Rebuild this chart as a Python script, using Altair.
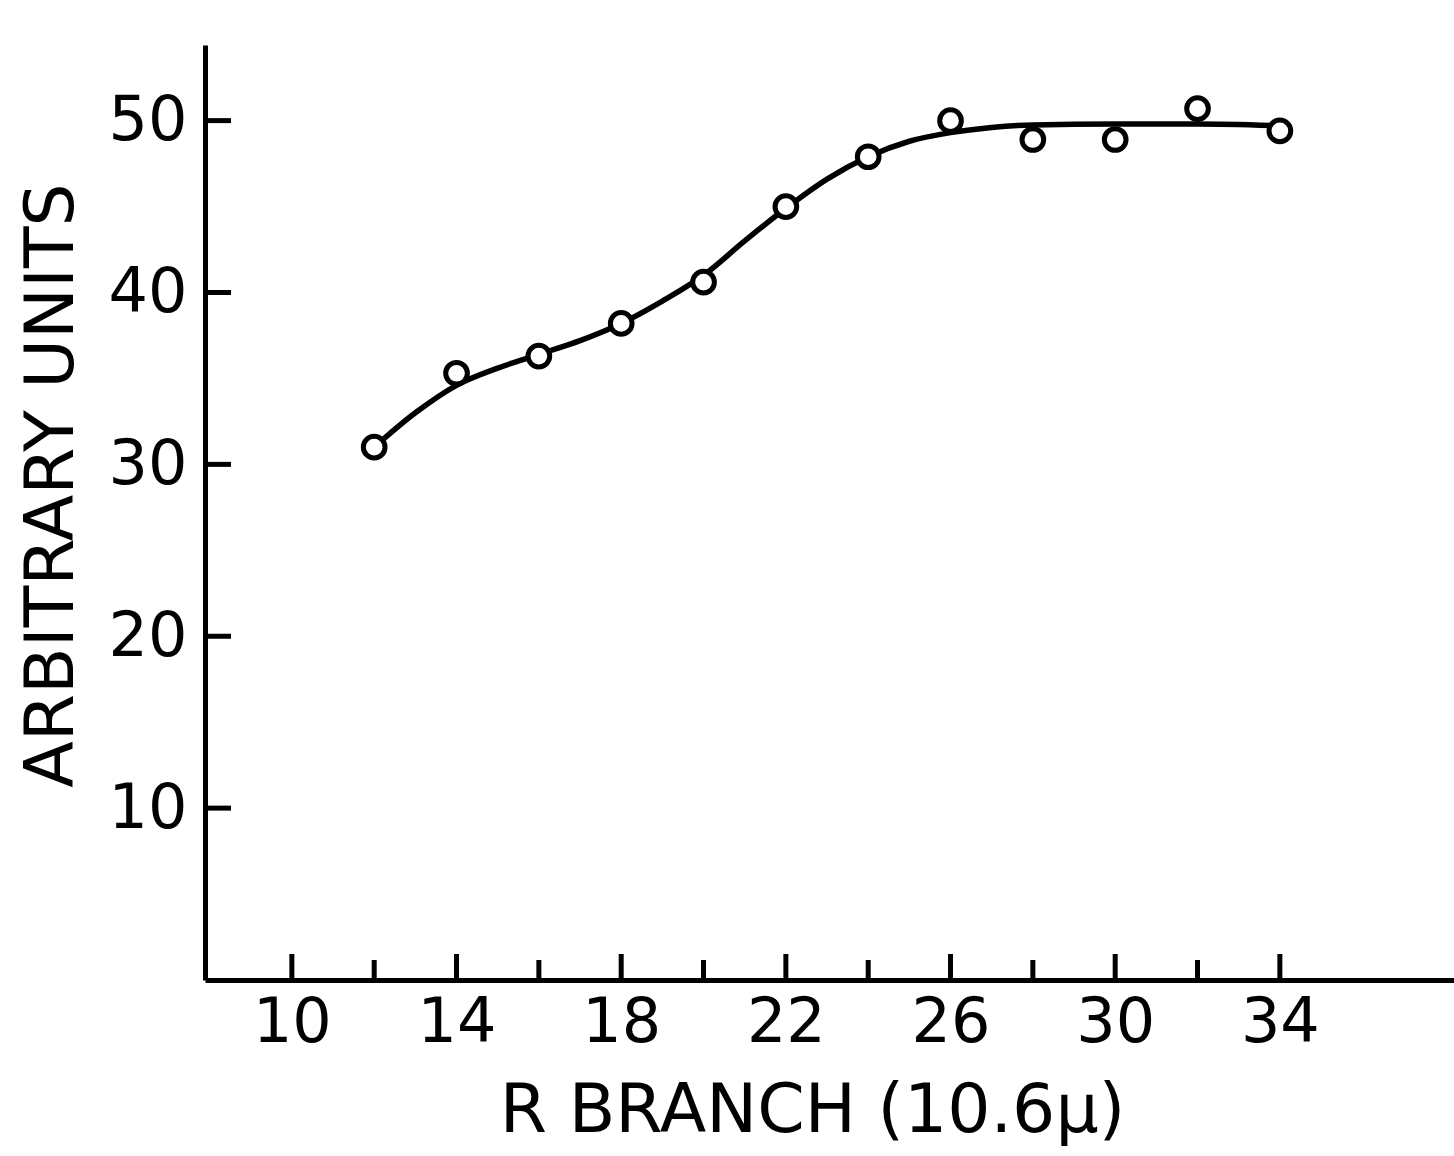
import altair as alt
import pandas as pd

# measured points
branch = [12, 14, 16, 18, 20, 22, 24, 26, 28, 30, 32, 34]
units = [31.0, 35.3, 36.3, 38.2, 40.6, 45.0, 47.9, 50.0, 48.9, 48.9, 50.7, 49.4]

# smooth hand-drawn curve
curve_x = [12, 13, 14, 15, 16, 17, 18, 19, 20, 21, 22, 23, 24, 25, 26, 27, 28, 30, 32, 34]
curve_y = [31.0, 33.0, 34.6, 35.6, 36.4, 37.2, 38.2, 39.5, 41.0, 43.0, 44.9, 46.6, 47.9,
           48.8, 49.3, 49.6, 49.75, 49.8, 49.8, 49.7]

x_major = [10, 14, 18, 22, 26, 30, 34]
x_minor = [12, 16, 20, 24, 28, 32]
y_ticks = [10, 20, 30, 40, 50]

W, H = 1249, 935
XDOM = [7.89, 38.23]
YDOM = [0, 54.4]
FONT = "DejaVu Sans"

xs = alt.Scale(domain=XDOM, nice=False, zero=False)
ys = alt.Scale(domain=YDOM, nice=False, zero=False)

pts = pd.DataFrame({"x": branch, "y": units})
crv = pd.DataFrame({"x": curve_x, "y": curve_y})

line = alt.Chart(crv).mark_line(color="black", strokeWidth=5.5, interpolate="monotone").encode(
    x=alt.X("x:Q", scale=xs,
            axis=alt.Axis(values=x_major, ticks=False, grid=False, domainColor="black",
                          domainWidth=5, labelFont=FONT, labelFontSize=62, labelColor="black",
                          labelPadding=12, title="R  BRANCH  (10.6\u03bc)", titleFont=FONT,
                          titleFontSize=68, titleFontWeight="normal", titleColor="black",
                          titlePadding=24, titleX=607, labelFlush=False)),
    y=alt.Y("y:Q", scale=ys,
            axis=alt.Axis(values=y_ticks, ticks=False, grid=False, domainColor="black",
                          domainWidth=5, labelFont=FONT, labelFontSize=62, labelColor="black",
                          labelPadding=18, title="ARBITRARY  UNITS", titleFont=FONT,
                          titleFontSize=68, titleFontWeight="normal", titleColor="black",
                          titlePadding=22, titleY=440, labelFlush=False)),
)

circles = alt.Chart(pts).mark_circle(color="white", stroke="black", strokeWidth=5,
                                     size=470, opacity=1).encode(
    x=alt.X("x:Q", scale=xs), y=alt.Y("y:Q", scale=ys))

ytk = alt.Chart(pd.DataFrame({"y": y_ticks})).mark_rule(color="black", strokeWidth=5).encode(
    y=alt.Y("y:Q", scale=ys), x=alt.value(0), x2=alt.value(26))

xtk_major = alt.Chart(pd.DataFrame({"x": x_major})).mark_rule(color="black", strokeWidth=5).encode(
    x=alt.X("x:Q", scale=xs), y=alt.value(H), y2=alt.value(H - 26))
xtk_minor = alt.Chart(pd.DataFrame({"x": x_minor})).mark_rule(color="black", strokeWidth=5).encode(
    x=alt.X("x:Q", scale=xs), y=alt.value(H), y2=alt.value(H - 20))

chart = alt.layer(line, ytk, xtk_major, xtk_minor, circles).properties(
    width=W, height=H,
    autosize=alt.AutoSizeParams(type="none"),
    padding={"left": 205, "top": 45, "right": 0, "bottom": 176},
    background="white",
).configure_view(stroke=None)

chart.save("out.html", embed_options={"renderer": "svg", "actions": False})
